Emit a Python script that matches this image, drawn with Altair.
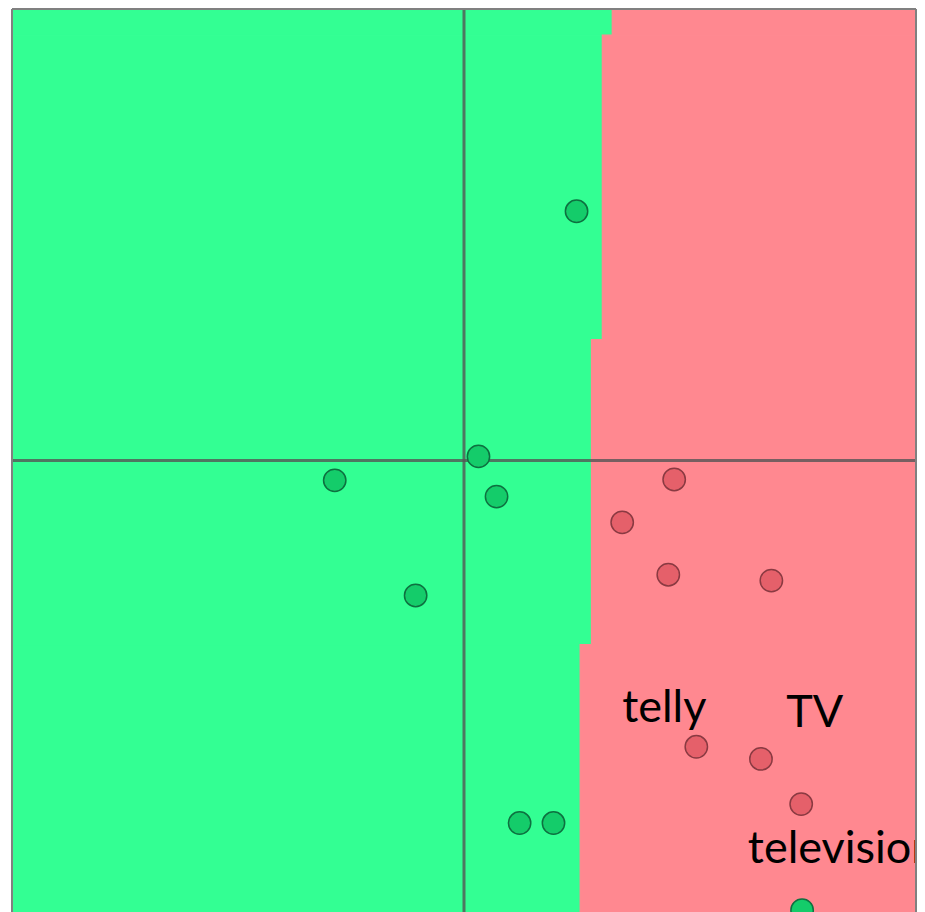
import altair as alt
import pandas as pd

# Decision boundary steps: band top/bottom (y) and boundary x
band_y_top = [1.0, 0.942, 0.268, -0.408]
band_y_bot = [0.942, 0.268, -0.408, -1.0]
band_x = [0.328, 0.306, 0.282, 0.257]

# Points
green_x = [0.249, 0.032, -0.286, 0.072, -0.107, 0.123, 0.198, 0.748]
green_y = [0.552, 0.009, -0.044, -0.080, -0.299, -0.803, -0.803, -0.996]
pink_x = [0.465, 0.350, 0.452, 0.680, 0.514, 0.657, 0.746]
pink_y = [-0.042, -0.137, -0.253, -0.266, -0.634, -0.661, -0.761]

# Labels
label_text = ["telly", "TV", "television"]
label_x = [0.443, 0.776, 0.628]
label_y = [-0.579, -0.590, -0.891]
label_align = ["center", "center", "left"]

XD = [-1, 1]
YD = [-1, 1]
xs = alt.Scale(domain=XD, nice=False, zero=False)
ys = alt.Scale(domain=YD, nice=False, zero=False)

GREEN = "#33FF93"
PINK = "#FF8890"

bands = pd.DataFrame({"y": band_y_top, "y2": band_y_bot, "xb": band_x,
                      "left": [-1.0] * 4, "right": [1.0] * 4})

green_reg = alt.Chart(bands).mark_rect(color=GREEN, stroke=GREEN, strokeWidth=1.2, clip=True).encode(
    x=alt.X("left:Q", scale=xs, axis=None), x2="xb:Q",
    y=alt.Y("y:Q", scale=ys, axis=None), y2="y2:Q")
pink_reg = alt.Chart(bands).mark_rect(color=PINK, stroke=PINK, strokeWidth=1.2, clip=True).encode(
    x=alt.X("xb:Q", scale=xs, axis=None), x2="right:Q",
    y=alt.Y("y:Q", scale=ys, axis=None), y2="y2:Q")

cross = pd.DataFrame({"z": [0.0]})
vline = alt.Chart(cross).mark_rule(color="#555555", opacity=0.8, strokeWidth=3).encode(
    x=alt.X("z:Q", scale=xs, axis=None))
hline = alt.Chart(cross).mark_rule(color="#555555", opacity=0.8, strokeWidth=3).encode(
    y=alt.Y("z:Q", scale=ys, axis=None))

gdf = pd.DataFrame({"x": green_x, "y": green_y})
pdf = pd.DataFrame({"x": pink_x, "y": pink_y})
gpts = alt.Chart(gdf).mark_point(filled=True, shape="circle", size=500, fill="#14CC6A",
                                 fillOpacity=1, stroke="#0E7040", strokeWidth=1.5, clip=True).encode(
    x=alt.X("x:Q", scale=xs, axis=None), y=alt.Y("y:Q", scale=ys, axis=None))
ppts = alt.Chart(pdf).mark_point(filled=True, shape="circle", size=500, fill="#E5606A",
                                 fillOpacity=1, stroke="#8A3A42", strokeWidth=1.5, clip=True).encode(
    x=alt.X("x:Q", scale=xs, axis=None), y=alt.Y("y:Q", scale=ys, axis=None))

ldf = pd.DataFrame({"t": label_text, "x": label_x, "y": label_y, "a": label_align})
texts = []
for i in range(len(label_text)):
    texts.append(alt.Chart(ldf.iloc[[i]]).mark_text(
        font="Lato", fontSize=45, color="#000000", align=label_align[i],
        baseline="alphabetic", clip=True).encode(
        x=alt.X("x:Q", scale=xs, axis=None), y=alt.Y("y:Q", scale=ys, axis=None), text="t:N"))

# frame (left, right, top edges)
fv = pd.DataFrame({"e": [XD[0], XD[1]]})
fh = pd.DataFrame({"e": [YD[1]]})
frame_v = alt.Chart(fv).mark_rule(color="#808080", strokeWidth=2).encode(
    x=alt.X("e:Q", scale=xs, axis=None))
frame_h = alt.Chart(fh).mark_rule(color="#808080", strokeWidth=2).encode(
    y=alt.Y("e:Q", scale=ys, axis=None))

chart = alt.layer(green_reg, pink_reg, vline, hline, gpts, ppts, *texts, frame_v, frame_h).properties(
    width=904, height=903,
    autosize=alt.AutoSizeParams(type="none"),
    padding={"left": 4, "top": 1, "right": 1, "bottom": 0},
).configure_view(strokeWidth=0).configure(background="white")

chart.save("out.html", embed_options={"renderer": "svg", "actions": False})
